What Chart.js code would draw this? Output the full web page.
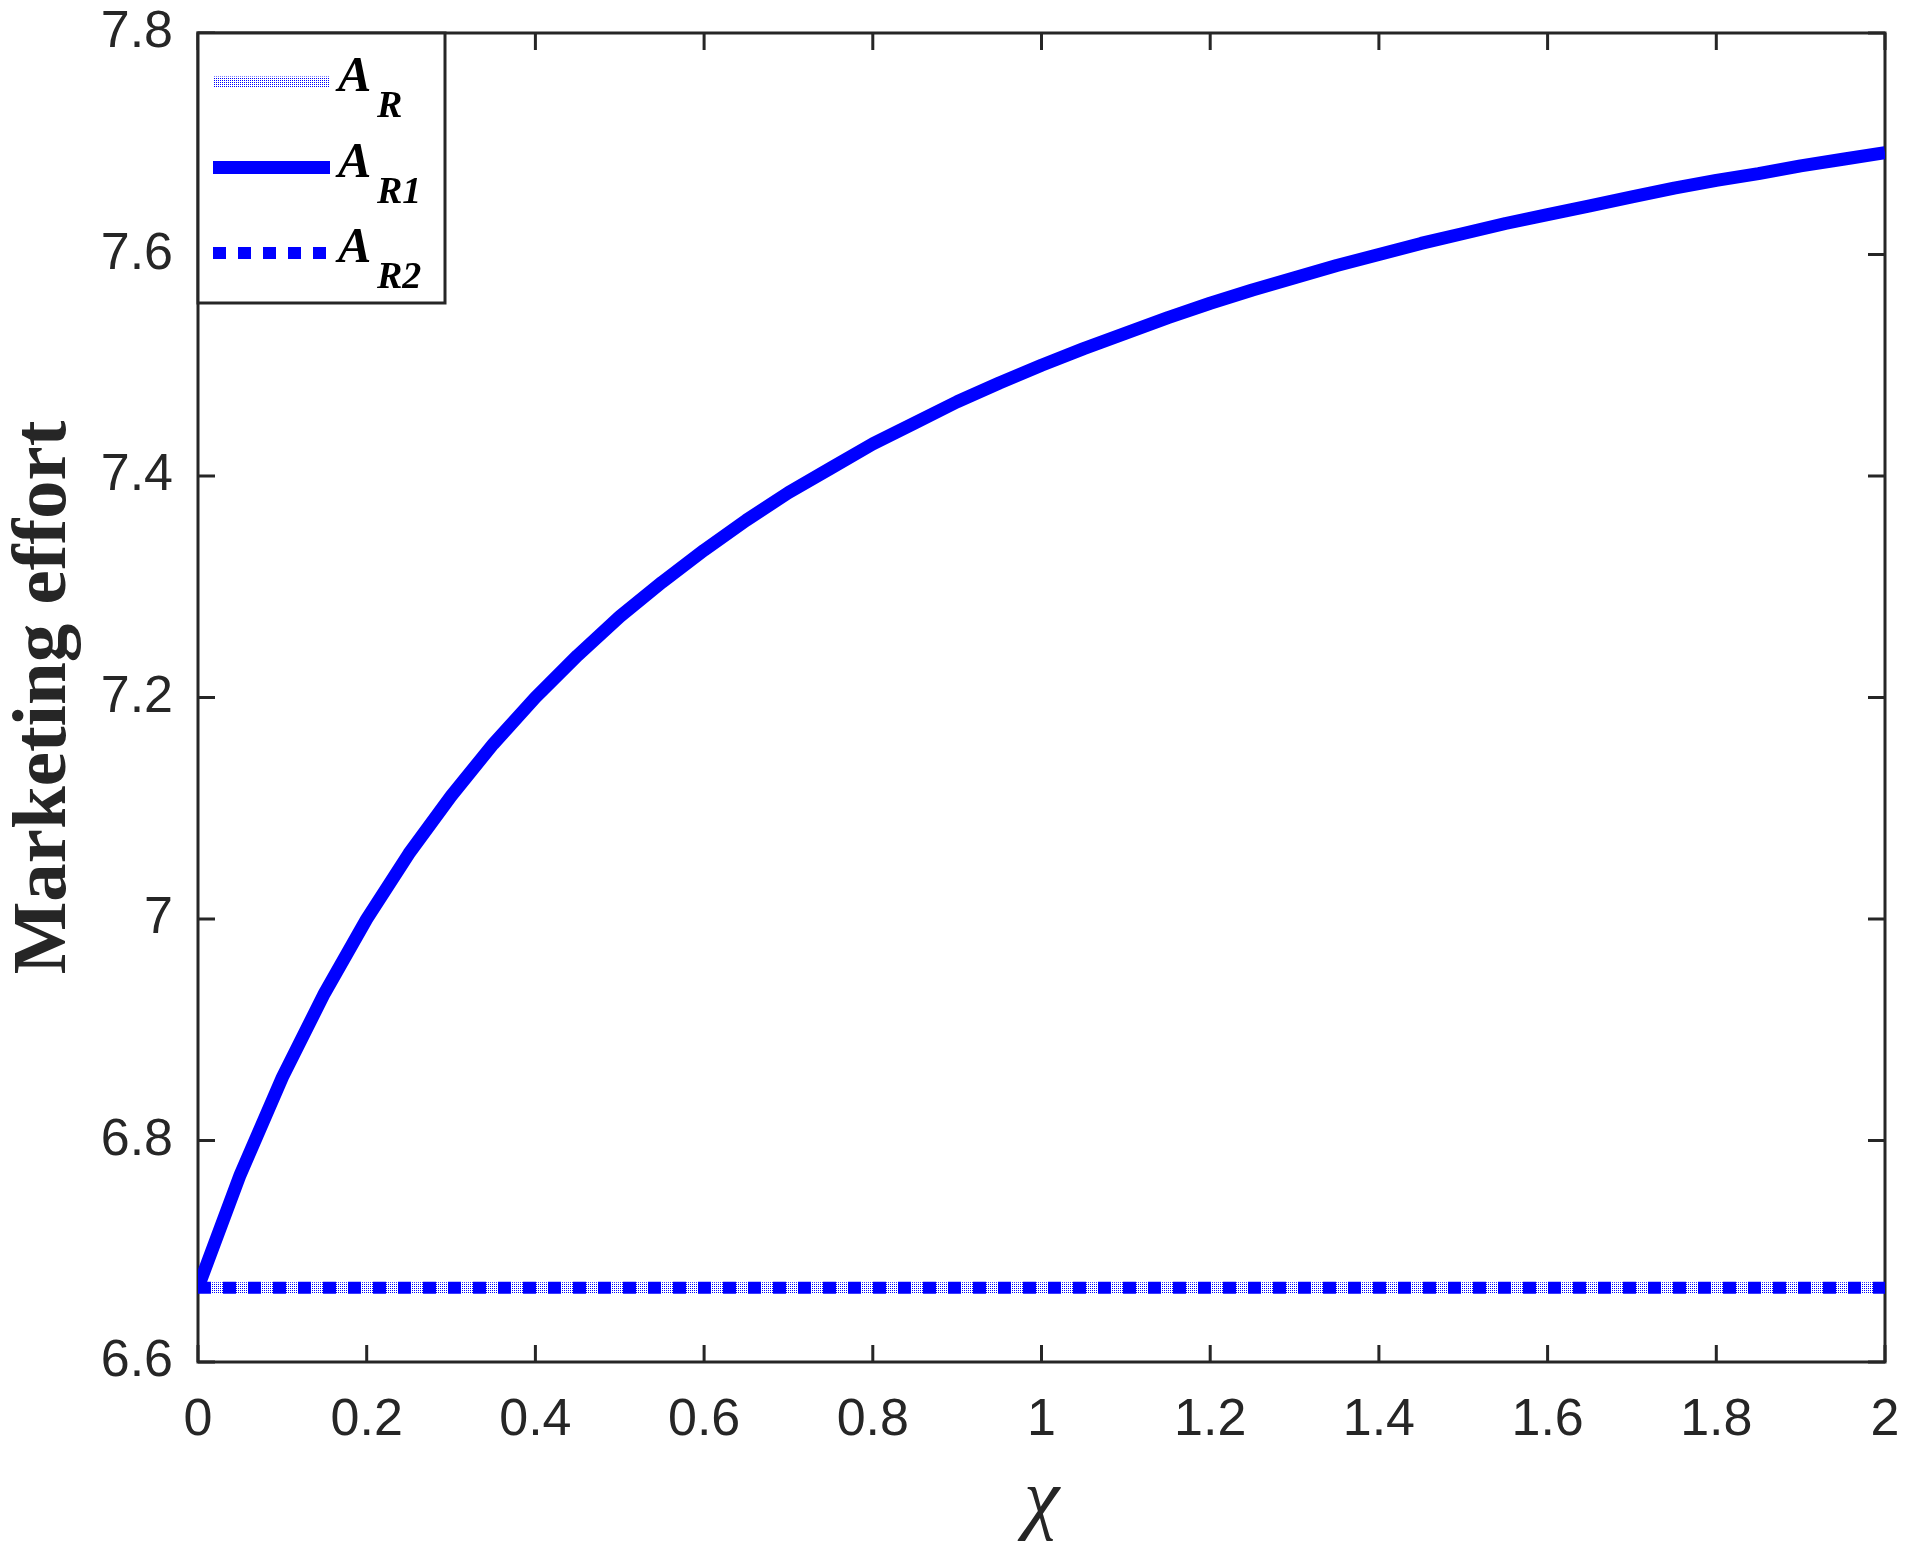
<!DOCTYPE html>
<html>
<head>
<meta charset="utf-8">
<title>Marketing effort</title>
<script src="https://cdn.jsdelivr.net/npm/chart.js@4.4.1/dist/chart.umd.min.js"></script>
<style>
  html, body { margin: 0; padding: 0; background: #fff; }
  canvas { display: block; }
</style>
</head>
<body>
<canvas id="effortChart" width="1910" height="1554"></canvas>
<script>
// x values (chi) and the three series
const chiValues = [0, 0.05, 0.1, 0.15, 0.2, 0.25, 0.3, 0.35, 0.4, 0.45, 0.5, 0.55, 0.6, 0.65, 0.7, 0.75, 0.8, 0.85, 0.9, 0.95,
    1, 1.05, 1.1, 1.15, 1.2, 1.25, 1.3, 1.35, 1.4, 1.45, 1.5, 1.55, 1.6, 1.65, 1.7, 1.75, 1.8, 1.85, 1.9, 1.95, 2];

const effortR = [6.667, 6.667, 6.667, 6.667, 6.667, 6.667, 6.667, 6.667, 6.667, 6.667, 6.667, 6.667, 6.667, 6.667,
    6.667, 6.667, 6.667, 6.667, 6.667, 6.667, 6.667, 6.667, 6.667, 6.667, 6.667, 6.667, 6.667, 6.667, 6.667, 6.667,
    6.667, 6.667, 6.667, 6.667, 6.667, 6.667, 6.667, 6.667, 6.667, 6.667, 6.667];

const effortR1 = [6.667, 6.769, 6.857, 6.933, 7.0, 7.059, 7.111, 7.158, 7.2, 7.238, 7.273, 7.304, 7.333, 7.36,
    7.385, 7.407, 7.429, 7.448, 7.467, 7.484, 7.5, 7.515, 7.529, 7.543, 7.556, 7.568, 7.579, 7.59, 7.6, 7.61,
    7.619, 7.628, 7.636, 7.644, 7.652, 7.66, 7.667, 7.673, 7.68, 7.686, 7.692];

const effortR2 = [6.667, 6.667, 6.667, 6.667, 6.667, 6.667, 6.667, 6.667, 6.667, 6.667, 6.667, 6.667, 6.667, 6.667,
    6.667, 6.667, 6.667, 6.667, 6.667, 6.667, 6.667, 6.667, 6.667, 6.667, 6.667, 6.667, 6.667, 6.667, 6.667, 6.667,
    6.667, 6.667, 6.667, 6.667, 6.667, 6.667, 6.667, 6.667, 6.667, 6.667, 6.667];

const xTicks = [0, 0.2, 0.4, 0.6, 0.8, 1, 1.2, 1.4, 1.6, 1.8, 2];
const xTickLabels = ['0', '0.2', '0.4', '0.6', '0.8', '1', '1.2', '1.4', '1.6', '1.8', '2'];
const yTicks = [6.6, 6.8, 7, 7.2, 7.4, 7.6, 7.8];
const yTickLabels = ['6.6', '6.8', '7', '7.2', '7.4', '7.6', '7.8'];

const legendMain = ['A', 'A', 'A'];
const legendSub = ['R', 'R1', 'R2'];

const axisColor = '#262626';
const blue = '#0000ff';

function toPoints(values) {
    return values.map((v, i) => ({ x: chiValues[i], y: v }));
}

// fine dot texture used by the A_R line
function stipple() {
    const tile = document.createElement('canvas');
    tile.width = 2;
    tile.height = 2;
    const t = tile.getContext('2d');
    t.fillStyle = blue;
    t.fillRect(0, 0, 1, 1);
    return document.getElementById('effortChart').getContext('2d').createPattern(tile, 'repeat');
}

// box around the plot with inward ticks on all four sides
const axesBox = {
    id: 'axesBox',
    beforeDatasetsDraw(chart) {
        const { ctx, chartArea: a, scales: { x, y } } = chart;
        const len = 17;
        ctx.save();
        ctx.strokeStyle = axisColor;
        ctx.lineWidth = 3;
        ctx.strokeRect(a.left, a.top, a.right - a.left, a.bottom - a.top);
        ctx.beginPath();
        x.ticks.forEach(t => {
            const px = x.getPixelForValue(t.value);
            ctx.moveTo(px, a.bottom);
            ctx.lineTo(px, a.bottom - len);
            ctx.moveTo(px, a.top);
            ctx.lineTo(px, a.top + len);
        });
        y.ticks.forEach(t => {
            const py = y.getPixelForValue(t.value);
            ctx.moveTo(a.left, py);
            ctx.lineTo(a.left + len, py);
            ctx.moveTo(a.right, py);
            ctx.lineTo(a.right - len, py);
        });
        ctx.stroke();
        ctx.restore();
    }
};

// legend with subscripted labels, drawn in the top-left corner
const legendBox = {
    id: 'legendBox',
    afterDatasetsDraw(chart) {
        const { ctx, chartArea } = chart;
        const left = chartArea.left;
        const top = chartArea.top;
        ctx.save();
        ctx.fillStyle = '#fff';
        ctx.fillRect(left, top, 247, 270);
        ctx.strokeStyle = axisColor;
        ctx.lineWidth = 3;
        ctx.strokeRect(left, top, 247, 270);
        chart.data.datasets.forEach((ds, i) => {
            const y = top + 49 + i * 85.5;
            ctx.beginPath();
            ctx.strokeStyle = ds.borderColor;
            ctx.lineWidth = ds.borderWidth;
            ctx.setLineDash(ds.borderDash || []);
            ctx.moveTo(left + 15, y);
            ctx.lineTo(left + 132, y);
            ctx.stroke();
            ctx.setLineDash([]);
            ctx.fillStyle = '#000';
            ctx.textBaseline = 'alphabetic';
            ctx.textAlign = 'left';
            ctx.font = 'italic bold 50px "Liberation Serif"';
            ctx.fillText(legendMain[i], left + 140, y + 9);
            ctx.font = 'italic bold 38px "Liberation Serif"';
            ctx.fillText(legendSub[i], left + 179, y + 35);
        });
        ctx.restore();
    }
};

const tickFont = { family: '"Liberation Sans", Arial, sans-serif', size: 52 };

new Chart(document.getElementById('effortChart'), {
    type: 'line',
    data: {
        datasets: [
            { label: 'A_R', data: toPoints(effortR), borderColor: stipple(), borderWidth: 11, order: 3 },
            { label: 'A_R1', data: toPoints(effortR1), borderColor: blue, borderWidth: 13, order: 2 },
            { label: 'A_R2', data: toPoints(effortR2), borderColor: blue, borderWidth: 12, borderDash: [13, 12], order: 1 }
        ]
    },
    options: {
        responsive: false,
        devicePixelRatio: 1,
        animation: false,
        elements: {
            point: { radius: 0 },
            line: { tension: 0, fill: false, borderJoinStyle: 'round' }
        },
        layout: { padding: { top: 33, right: 25, bottom: 0, left: 0 } },
        plugins: {
            legend: { display: false },
            tooltip: { enabled: false }
        },
        scales: {
            x: {
                type: 'linear',
                min: 0,
                max: 2,
                // invisible tick marks only set the gap between axis and labels
                grid: { display: true, drawOnChartArea: false, drawTicks: true, tickLength: 27, color: 'transparent' },
                border: { display: false },
                afterBuildTicks: s => { s.ticks = xTicks.map(v => ({ value: v })); },
                afterFit: s => { s.height = 192; },
                ticks: {
                    padding: 0,
                    maxRotation: 0,
                    autoSkip: false,
                    color: axisColor,
                    font: tickFont,
                    callback: (v, i) => xTickLabels[i]
                },
                title: {
                    display: true,
                    text: 'χ',
                    color: axisColor,
                    padding: { top: 0, bottom: 3 },
                    font: { family: '"Liberation Serif", "Times New Roman", serif', size: 80, style: 'italic' }
                }
            },
            y: {
                type: 'linear',
                min: 6.6,
                max: 7.8,
                grid: { display: true, drawOnChartArea: false, drawTicks: true, tickLength: 25, color: 'transparent' },
                border: { display: false },
                afterBuildTicks: s => { s.ticks = yTicks.map(v => ({ value: v })); },
                afterFit: s => { s.width = 198; },
                ticks: {
                    padding: 0,
                    color: axisColor,
                    font: tickFont,
                    callback: (v, i) => yTickLabels[i]
                },
                title: {
                    display: true,
                    text: 'Marketing effort',
                    color: axisColor,
                    padding: 0,
                    font: { family: '"Liberation Serif", "Times New Roman", serif', size: 77, weight: 'bold', lineHeight: 1.17 }
                }
            }
        }
    },
    plugins: [axesBox, legendBox]
});
</script>
</body>
</html>
